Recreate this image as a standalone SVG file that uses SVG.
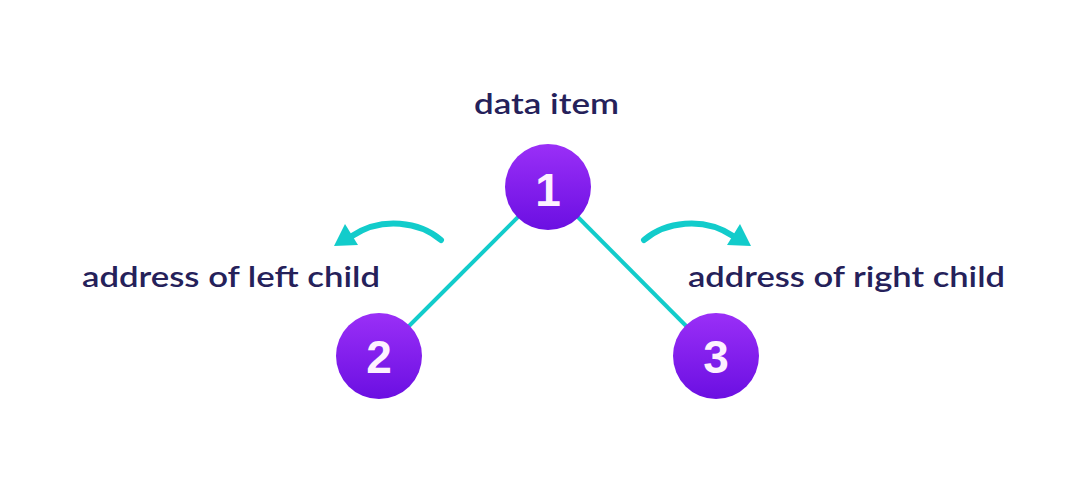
<svg xmlns="http://www.w3.org/2000/svg" width="1090" height="480" viewBox="0 0 1090 480">
<style>
.lbl{font-family:"Lato","Liberation Sans",sans-serif;font-weight:600;font-size:29px;fill:#25215a}
.num{font-family:"Liberation Sans",Arial,sans-serif;font-weight:bold;font-size:46px;fill:#fdf1ff;text-anchor:middle}
.edge{stroke:#12cccb;stroke-width:4;fill:none}
.arc{stroke:#12cccb;stroke-width:6;fill:none;stroke-linecap:round}
.head{fill:#12cccb}
</style>
<defs>
<linearGradient id="g" x1="0" y1="0" x2="0" y2="1">
<stop offset="0" stop-color="#9a2ff7"/>
<stop offset="1" stop-color="#6b0fe2"/>
</linearGradient>
</defs>
<rect width="1090" height="480" fill="#fff"/>
<g id="connectors">
<line class="edge" x1="548" y1="187" x2="379" y2="356"/>
<line class="edge" x1="548" y1="187" x2="716" y2="356"/>
<path class="arc" d="M441,240 C420,222 382,216 352,236"/>
<polygon class="head" points="345,224 334,246 358,245"/>
<path class="arc" d="M644,240 C665,222 703,216 733,236"/>
<polygon class="head" points="740,224 751,246 727,245"/>
</g>
<g id="label-data"><text class="lbl" x="474" y="114" textLength="145" lengthAdjust="spacingAndGlyphs">data item</text></g>
<g id="label-left"><text class="lbl" x="82" y="287" textLength="298" lengthAdjust="spacingAndGlyphs">address of left child</text></g>
<g id="label-right"><text class="lbl" x="688" y="287" textLength="317" lengthAdjust="spacingAndGlyphs">address of right child</text></g>
<g id="node1"><circle cx="548" cy="187" r="43" fill="url(#g)"/><text class="num" x="548" y="206">1</text></g>
<g id="node2"><circle cx="379" cy="356" r="43" fill="url(#g)"/><text class="num" x="379" y="373">2</text></g>
<g id="node3"><circle cx="716" cy="356" r="43" fill="url(#g)"/><text class="num" x="716" y="373">3</text></g>
</svg>
